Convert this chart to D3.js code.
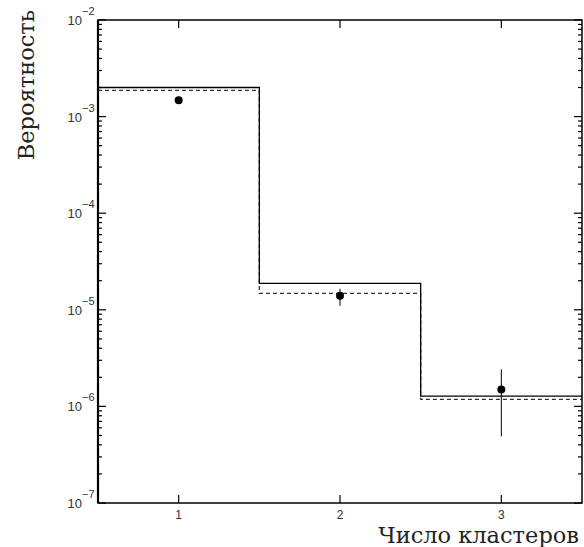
<!DOCTYPE html>
<html>
<head>
<meta charset="utf-8">
<script src="https://cdn.jsdelivr.net/npm/d3@7"></script>
<style>
  body { margin: 0; background: #fff; }
  svg { display: block; }
</style>
</head>
<body>
<svg id="chart"></svg>
<script>
// data
const clusters = [1, 2, 3];
const histSolid = [2.0e-3, 1.88e-5, 1.28e-6];
const histDashed = [1.87e-3, 1.48e-5, 1.18e-6];
const pointVals = [1.48e-3, 1.4e-5, 1.5e-6];
const errLow = [1.40e-3, 1.1e-5, 4.9e-7];
const errHigh = [1.56e-3, 1.65e-5, 2.42e-6];
const yTickPowers = [-7, -6, -5, -4, -3, -2];
const xTitle = "Число кластеров";
const yTitle = "Вероятность";

const svgW = 584, svgH = 547;
const pLeft = 98, pRight = 582, pTop = 20, pBottom = 503;

const svg = d3.select("#chart").attr("width", svgW).attr("height", svgH);

const x = d3.scaleLinear().domain([0.5, 3.5]).range([pLeft, pRight]);
const y = d3.scaleLog().domain([1e-7, 1e-2]).range([pBottom, pTop]);

// minor log ticks
let minor = [];
for (let p = -7; p < -2; p++) {
  for (let m = 2; m <= 9; m++) minor.push(m * Math.pow(10, p));
}
const major = yTickPowers.map(p => Math.pow(10, p));

// left + right ticks
[[pLeft, 1], [pRight, -1]].forEach(([xx, dir]) => {
  svg.append("g").selectAll("line").data(major).enter().append("line")
    .attr("x1", xx).attr("x2", xx + dir * 8)
    .attr("y1", d => y(d)).attr("y2", d => y(d))
    .attr("stroke", "#000").attr("stroke-width", 1.2);
  svg.append("g").selectAll("line").data(minor).enter().append("line")
    .attr("x1", xx).attr("x2", xx + dir * 4)
    .attr("y1", d => y(d)).attr("y2", d => y(d))
    .attr("stroke", "#000").attr("stroke-width", 1.2);
});

// top + bottom ticks
[[pBottom, -1], [pTop, 1]].forEach(([yy, dir]) => {
  svg.append("g").selectAll("line").data(clusters).enter().append("line")
    .attr("x1", d => x(d)).attr("x2", d => x(d))
    .attr("y1", yy).attr("y2", yy + dir * 8)
    .attr("stroke", "#000").attr("stroke-width", 1.2);
});

// histograms
const stepLine = vals => {
  let pts = [];
  vals.forEach((v, i) => {
    pts.push([x(clusters[i] - 0.5), y(v)]);
    pts.push([x(clusters[i] + 0.5), y(v)]);
  });
  return d3.line()(pts);
};

svg.append("path").attr("d", stepLine(histDashed))
  .attr("fill", "none").attr("stroke", "#333").attr("stroke-width", 1.3)
  .attr("stroke-dasharray", "4,3");
svg.append("path").attr("d", stepLine(histSolid))
  .attr("fill", "none").attr("stroke", "#000").attr("stroke-width", 1.3);

// error bars and points
svg.append("g").selectAll("line").data(clusters).enter().append("line")
  .attr("x1", d => x(d)).attr("x2", d => x(d))
  .attr("y1", (d, i) => y(errLow[i])).attr("y2", (d, i) => y(errHigh[i]))
  .attr("stroke", "#000").attr("stroke-width", 1);

svg.append("g").selectAll("circle").data(clusters).enter().append("circle")
  .attr("cx", d => x(d)).attr("cy", (d, i) => y(pointVals[i]))
  .attr("r", 4).attr("fill", "#000");

// frame
svg.append("rect").attr("x", pLeft).attr("y", pTop)
  .attr("width", pRight - pLeft).attr("height", pBottom - pTop)
  .attr("fill", "none").attr("stroke", "#000").attr("stroke-width", 1.5);
svg.append("line").attr("x1", pLeft).attr("x2", pLeft).attr("y1", pTop).attr("y2", pBottom)
  .attr("stroke", "#000").attr("stroke-width", 2.2);

// y tick labels: 10^p
const yl = svg.append("g").selectAll("text").data(yTickPowers).enter().append("text")
  .attr("y", d => y(Math.pow(10, d)) + 5)
  .attr("font-family", "Liberation Sans, Arial, sans-serif")
  .attr("fill", "#333");
yl.append("tspan").attr("x", 82).attr("text-anchor", "end")
  .attr("font-size", 13).text("10");
yl.append("tspan").attr("x", 82).attr("dy", -10).attr("text-anchor", "start")
  .attr("font-size", 11).text(d => "\u2212" + (-d));

// x tick labels
svg.append("g").selectAll("text").data(clusters).enter().append("text")
  .attr("x", d => x(d)).attr("y", 519)
  .attr("text-anchor", "middle")
  .attr("font-family", "Liberation Sans, Arial, sans-serif")
  .attr("font-size", 12).attr("fill", "#333")
  .text(d => d);

// axis titles
svg.append("text")
  .attr("x", 579).attr("y", 543)
  .attr("text-anchor", "end")
  .attr("font-family", "DejaVu Serif, serif")
  .attr("font-size", 22.5).attr("fill", "#222")
  .text(xTitle);

svg.append("text")
  .attr("transform", "translate(34,10) rotate(-90)")
  .attr("text-anchor", "end")
  .attr("font-family", "DejaVu Serif, serif")
  .attr("font-size", 22.5).attr("fill", "#222")
  .text(yTitle);
</script>
</body>
</html>
